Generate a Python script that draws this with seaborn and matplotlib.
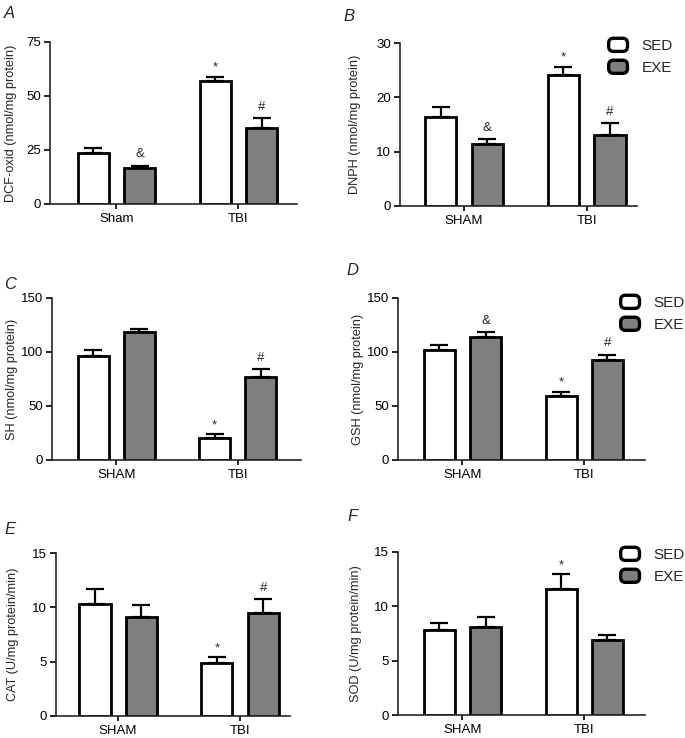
import numpy as np
import pandas as pd
import matplotlib
matplotlib.use("Agg")
import matplotlib.pyplot as plt
import seaborn as sns
from matplotlib.patches import Patch, FancyBboxPatch
from matplotlib.legend_handler import HandlerPatch

sns.set_style("ticks")
plt.rcParams['font.family'] = ['Liberation Sans', 'DejaVu Sans']

# ---------------- data ----------------
conditions = ["SED", "EXE"]

groups_A = ["Sham", "TBI"]
groups = ["SHAM", "TBI"]

# A: DCF-oxid
A_sed = [23.5, 57.1]
A_exe = [16.5, 35.0]
A_sed_sem = [2.6, 1.7]
A_exe_sem = [1.2, 4.7]
A_sed_sig = ["", "*"]
A_exe_sig = ["&", "#"]

# B: DNPH
B_sed = [16.4, 24.2]
B_exe = [11.5, 13.1]
B_sed_sem = [1.9, 1.4]
B_exe_sem = [0.8, 2.1]
B_sed_sig = ["", "*"]
B_exe_sig = ["&", "#"]

# C: SH
C_sed = [96.1, 20.0]
C_exe = [118.6, 77.0]
C_sed_sem = [5.6, 3.7]
C_exe_sem = [3.1, 7.4]
C_sed_sig = ["", "*"]
C_exe_sig = ["", "#"]

# D: GSH
D_sed = [101.7, 59.4]
D_exe = [114.0, 92.4]
D_sed_sem = [4.6, 3.7]
D_exe_sem = [4.6, 5.2]
D_sed_sig = ["", "*"]
D_exe_sig = ["&", "#"]

# E: CAT
E_sed = [10.28, 4.88]
E_exe = [9.15, 9.51]
E_sed_sem = [1.43, 0.52]
E_exe_sem = [1.04, 1.23]
E_sed_sig = ["", "*"]
E_exe_sig = ["", "#"]

# F: SOD
F_sed = [7.81, 11.62]
F_exe = [8.14, 6.86]
F_sed_sem = [0.64, 1.32]
F_exe_sem = [0.89, 0.50]
F_sed_sig = ["", "*"]
F_exe_sig = ["", ""]

y_labels = ["DCF-oxid (nmol/mg protein)", "DNPH (nmol/mg protein)",
            "SH (nmol/mg protein)", "GSH (nmol/mg protein)",
            "CAT (U/mg protein/min)", "SOD (U/mg protein/min)"]
y_ticks = [[0, 25, 50, 75], [0, 10, 20, 30], [0, 50, 100, 150],
           [0, 50, 100, 150], [0, 5, 10, 15], [0, 5, 10, 15]]
panel_letters = ["A", "B", "C", "D", "E", "F"]

# ---------------- layout ----------------
W, H = 685, 738
fig = plt.figure(figsize=(W / 100, H / 100), dpi=100)

# axes boxes in pixels: left, right, top, bottom
boxes = [(50, 297, 42, 204), (400, 637, 43, 206),
         (52, 301, 298, 460), (398, 645, 298, 460),
         (56, 290, 553, 716), (398, 645, 552, 715)]
xlims = [(-0.545, 1.48), (-0.52, 1.41), (-0.53, 1.52),
         (-0.53, 1.50), (-0.51, 1.41), (-0.53, 1.50)]
ylabel_x = [11, 355, 12, 358, 13, 356]
letter_pos = [(4, 18), (343, 21), (4, 289), (346, 275), (4, 534), (347, 521)]
legend_pos = [None, (607, 38), None, (619, 295), None, (619, 547)]

panels = [
    (groups_A, A_sed, A_exe, A_sed_sem, A_exe_sem, A_sed_sig, A_exe_sig),
    (groups, B_sed, B_exe, B_sed_sem, B_exe_sem, B_sed_sig, B_exe_sig),
    (groups, C_sed, C_exe, C_sed_sem, C_exe_sem, C_sed_sig, C_exe_sig),
    (groups, D_sed, D_exe, D_sed_sem, D_exe_sem, D_sed_sig, D_exe_sig),
    (groups, E_sed, E_exe, E_sed_sem, E_exe_sem, E_sed_sig, E_exe_sig),
    (groups, F_sed, F_exe, F_sed_sem, F_exe_sem, F_sed_sig, F_exe_sig),
]

palette = {"SED": "white", "EXE": "#7f7f7f"}


class RoundHandler(HandlerPatch):
    def create_artists(self, legend, orig_handle, xdescent, ydescent,
                       width, height, fontsize, trans):
        p = FancyBboxPatch((-xdescent + 1.2, -ydescent + 0.2), width - 2.4, height - 0.4,
                           boxstyle="round,pad=0,rounding_size=3.5",
                           facecolor=orig_handle.get_facecolor(),
                           edgecolor="black", linewidth=2.4, transform=trans)
        return [p]


for i, (grp, sed, exe, sed_sem, exe_sem, sed_sig, exe_sig) in enumerate(panels):
    l, r, t, b = boxes[i]
    ax = fig.add_axes([l / W, 1 - b / H, (r - l) / W, (b - t) / H])
    df = pd.DataFrame({
        "group": grp + grp,
        "cond": ["SED"] * len(grp) + ["EXE"] * len(grp),
        "value": list(sed) + list(exe),
    })
    sns.barplot(data=df, x="group", y="value", hue="cond", hue_order=conditions,
                order=grp, palette=palette, edgecolor="black", linewidth=2.0,
                width=0.76, gap=0.33, errorbar=None, legend=False, ax=ax)
    sems = [sed_sem, exe_sem]
    sigs = [sed_sig, exe_sig]
    vals = [sed, exe]
    bar_conts = list(ax.containers)
    for ci, cont in enumerate(bar_conts):
        for bi, bar in enumerate(list(cont.patches)):
            xc = bar.get_x() + bar.get_width() / 2
            top = vals[ci][bi]
            err = sems[ci][bi]
            ax.errorbar([xc], [top], yerr=[[0], [err]], fmt="none",
                        ecolor="black", elinewidth=1.6, capsize=6.3,
                        capthick=1.6, zorder=1)
            s = sigs[ci][bi]
            if s:
                off = 4.5 if s == "*" else 6
                ax.annotate(s, (xc, top + err), xytext=(0, off),
                            textcoords="offset points", ha="center",
                            va="baseline", fontsize=9.5)
    ax.set_xlim(*xlims[i])
    ax.set_ylim(0, y_ticks[i][-1])
    ax.set_yticks(y_ticks[i])
    ax.set_xlabel("")
    ax.set_ylabel("")
    sns.despine(ax=ax)
    for sp in ["left", "bottom"]:
        ax.spines[sp].set_linewidth(1.2)
    ax.tick_params(axis="both", labelsize=9.5, width=1.2, length=4, pad=2.5,
                   colors="black")
    ax.tick_params(axis="x", pad=3, length=3.5)
    ax.set_facecolor("none")

    fig.text(ylabel_x[i] / W, 1 - ((t + b) / 2) / H, y_labels[i], rotation=90,
             ha="center", va="center", fontsize=9.2)

    fig.text(letter_pos[i][0] / W, 1 - letter_pos[i][1] / H, panel_letters[i],
             fontsize=12, style="italic", ha="left", va="baseline")

    if legend_pos[i] is not None:
        handles = [Patch(facecolor=palette[c], edgecolor="black") for c in conditions]
        lx, ly = legend_pos[i]
        fig.legend(handles, conditions, loc="upper left",
                   bbox_to_anchor=(lx / W, 1 - ly / H), frameon=False,
                   fontsize=11, handlelength=1.45, handleheight=1.0,
                   handletextpad=0.8, labelspacing=0.45, borderpad=0,
                   borderaxespad=0,
                   handler_map={Patch: RoundHandler()})

fig.savefig("out.png", dpi=100)
